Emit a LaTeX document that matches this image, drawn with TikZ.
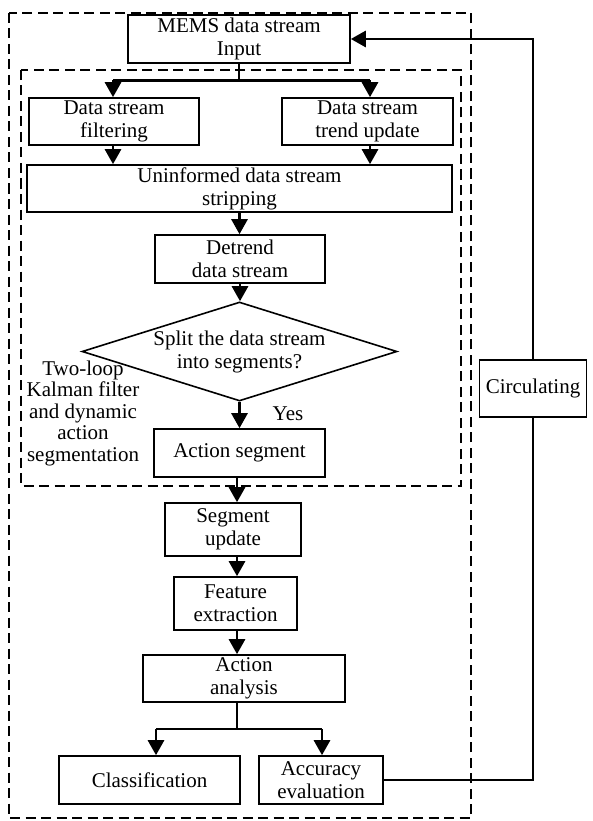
\documentclass[tikz,border=0pt]{standalone}
\usepackage{fontspec}
\setmainfont{Liberation Serif}
\usetikzlibrary{arrows.meta,shapes.geometric,calc}
\begin{document}
\begin{tikzpicture}[x=1pt,y=-1pt,
  every node/.style={font=\fontsize{21}{23}\selectfont},
  box/.style={draw,line width=1.6pt,align=center,inner sep=0pt},
  conn/.style={line width=2.8pt,-{Triangle[length=15pt,width=16pt]}},
  plain/.style={line width=2.8pt},
  frame/.style={line width=2.3pt,dash pattern=on 10pt off 5.5pt}]
\useasboundingbox (0,0) rectangle (592,821);
% frames
\draw[frame] (9,13) rectangle (471,818);
\draw[frame] (21,70) rectangle (461,486);
% nodes
\node[box,minimum width=222pt,minimum height=48pt] (mems) at (239,39) {MEMS data stream\\Input};
\node[box,minimum width=170pt,minimum height=47pt] (filt) at (114,121.5) {Data stream\\filtering};
\node[box,minimum width=171pt,minimum height=47pt] (trend) at (367.5,121.5) {Data stream\\trend update};
\node[box,minimum width=425pt,minimum height=47pt] (unin) at (239.5,188.5) {Uninformed data stream\\stripping};
\node[box,minimum width=170pt,minimum height=48pt] (detr) at (240,259) {Detrend\\data stream};
\node[draw,line width=1.6pt,diamond,aspect=3.18,inner sep=0pt,align=center,minimum width=315pt,minimum height=99pt] (dia) at (239.5,351.5) {Split the data stream\\into segments?};
\node[box,minimum width=171pt,minimum height=48pt] (aseg) at (239.5,453) {Action segment};
\node[box,minimum width=136pt,minimum height=53pt] (supd) at (233,529.5) {Segment\\update};
\node[box,minimum width=123pt,minimum height=53pt] (feat) at (235.5,603.5) {Feature\\extraction};
\node[box,minimum width=202pt,minimum height=47pt] (anal) at (244,678.5) {Action\\analysis};
\node[box,minimum width=181pt,minimum height=48pt] (cls) at (149.5,780) {Classification};
\node[box,minimum width=124pt,minimum height=48pt] (acc) at (321,780) {Accuracy\\evaluation};
\node[box,fill=white,minimum width=107pt,minimum height=57pt] (circ) at (533,388.5) {Circulating};
\node[align=center,inner sep=0pt,font=\fontsize{21}{21.5}\selectfont] (lbl) at (83,413) {Two-loop\\Kalman filter\\and dynamic\\action\\segmentation};
\node[inner sep=0pt] (yes) at (288,414) {Yes};
% connectors
\coordinate (b1) at (239,80.5);
\coordinate (b1l) at (113,80.5);
\coordinate (b1r) at (370,80.5);
\draw[plain] (mems.south) -- (b1);
\draw[plain,-] (b1l) -- (b1r);
\draw[conn] (b1l) -- (b1l |- filt.north);
\draw[conn] (b1r) -- (b1r |- trend.north);
\draw[conn] (b1l |- filt.south) -- (b1l |- unin.north);
\draw[conn] (b1r |- trend.south) -- (b1r |- unin.north);
\draw[conn] (unin.south) -- (unin.south |- detr.north);
\draw[conn] (detr.south) -- (detr.south |- dia.north);
\draw[conn] (dia.south) -- (dia.south |- aseg.north);
\coordinate (s1) at (237,0);
\draw[conn] (s1 |- aseg.south) -- (s1 |- supd.north);
\draw[conn] (s1 |- supd.south) -- (s1 |- feat.north);
\draw[conn] (s1 |- feat.south) -- (s1 |- anal.north);
\coordinate (b2) at (237,729);
\coordinate (b2l) at (156,729);
\coordinate (b2r) at (322,729);
\draw[plain] (s1 |- anal.south) -- (b2);
\draw[plain] (b2l) -- (b2r);
\draw[conn] (b2l) -- (b2l |- cls.north);
\draw[conn] (b2r) -- (b2r |- acc.north);
\coordinate (lp1) at (533,780);
\coordinate (lp2) at (533,39);
\draw[plain] (acc.east) -- (lp1) -- (circ.south);
\draw[conn] (circ.north) -- (lp2) -- (mems.east);
\end{tikzpicture}
\end{document}
